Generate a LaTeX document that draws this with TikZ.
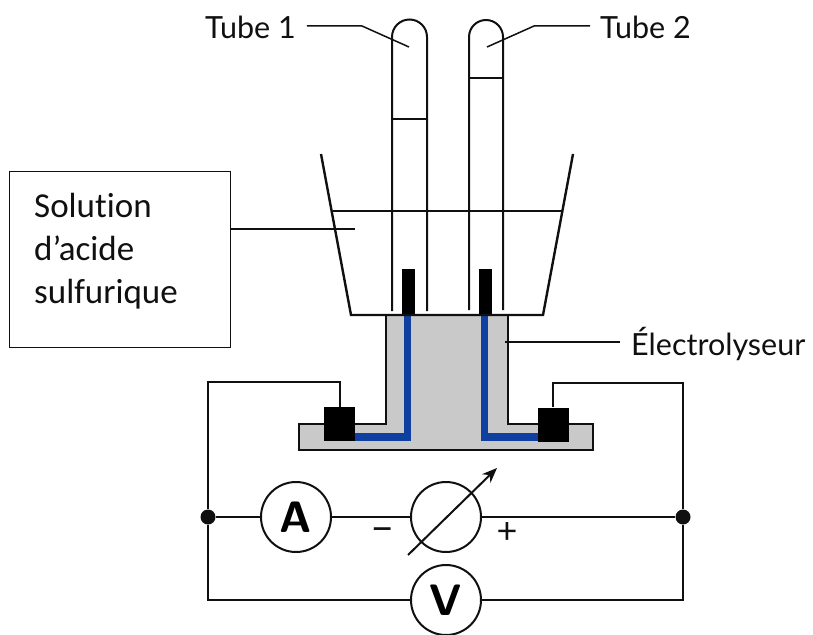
\documentclass[tikz,border=0pt]{standalone}
\usepackage{fontspec}
\setmainfont{Lato}[Ligatures=NoCommon]
\newfontfamily\boxfont{Carlito}[Ligatures=NoCommon]
\usetikzlibrary{arrows.meta}
\definecolor{greyfill}{HTML}{C9C9C9}
\definecolor{bluemetal}{HTML}{0F3FA0}
\definecolor{ink}{HTML}{101010}
\tikzset{
  wire/.style={draw=ink,line width=2pt},
  thin wire/.style={draw=ink,line width=1.5pt},
  meter/.style={circle,draw=ink,line width=2pt,minimum size=70pt,inner sep=0pt,font=\fontsize{44}{44}\selectfont\sffamily\bfseries,fill=white},
  dotj/.style={circle,fill=ink,minimum size=15pt,inner sep=0pt},
  label text/.style={font=\fontsize{30.5}{34}\selectfont,inner sep=0pt,text=ink},
  clamp/.style={fill=black,draw=none}
}
\begin{document}
\begin{tikzpicture}[x=1pt,y=-1pt]
\useasboundingbox (0,0) rectangle (813,634);
% electrolyser body
\fill[greyfill] (386,316) -- (508,316) -- (508,424) -- (593,424) -- (593,450) -- (299,450) -- (299,424) -- (386,424) -- cycle;
\draw[wire] (386,316) -- (386,424) -- (299,424) -- (299,450) -- (593,450) -- (593,424) -- (508,424) -- (508,316);
% blue electrodes
\fill[bluemetal] (404,316) rectangle (411,441);
\fill[bluemetal] (355,433) rectangle (411,441);
\fill[bluemetal] (481,316) rectangle (488,441);
\fill[bluemetal] (481,433) rectangle (538,441);
% black electrode tips
\fill[black] (402,269) rectangle (415,315);
\fill[black] (479,269) rectangle (492,315);
% clamps
\node[clamp,minimum width=31pt,minimum height=34pt,inner sep=0pt] (cl) at (339.5,424) {};
\node[clamp,minimum width=31pt,minimum height=34pt,inner sep=0pt] (cr) at (553,424.5) {};
% beaker
\draw[wire,line width=2.4pt,line join=miter] (321,154) -- (351,315) -- (543,315) -- (573,154);
\draw[thin wire] (333,211) -- (562,211);
% tubes
\draw[wire] (392,311) -- (392,37) arc[start angle=180,end angle=360,radius=17.5] -- (427,311);
\draw[wire] (469,310) -- (469,37) arc[start angle=180,end angle=360,radius=17] -- (503,310);
\draw[thin wire] (392,119) -- (427,119);
\draw[thin wire] (469,78) -- (503,78);
% labels
\node[label text,anchor=west] (t1) at (205,27) {Tube 1};
\node[label text,anchor=west] (t2) at (600,27) {Tube 2};
\node[label text,anchor=west] (el) at (631,344) {Électrolyseur};
\coordinate (t1end) at (409,47);
\coordinate (t2end) at (487,47);
\coordinate (elend) at (505,342);
\coordinate (boxend) at (355,229);
\draw[thin wire] (t1.east) ++(11,-1) -- (362,26) -- (t1end);
\draw[thin wire] (t2.west) ++(-10,-1) -- (534,26) -- (t2end);
\draw[thin wire] (el.west) ++(-11,-2) -- (elend);
% text box
\node[draw=ink,line width=1.2pt,anchor=north west,minimum width=221pt,minimum height=176pt,inner sep=0pt,fill=white] (box) at (9,171) {};
\node[anchor=west,inner sep=0pt,align=left,font=\boxfont\fontsize{35}{43}\selectfont,text=ink] (boxt) at (34,251) {Solution\\d’acide\\sulfurique};
\draw[thin wire] (box.east |- boxend) -- (boxend);
% circuit
\node[dotj] (jl) at (208,517) {};
\node[dotj] (jr) at (683,517) {};
\node[meter] (A) at (296,517) {A};
\node[meter] (G) at (446,517) {};
\node[meter] (V) at (446,600) {V};
\coordinate (arrowstart) at (408,555);
\coordinate (arrowend) at (497,468);
\draw[wire,-{Stealth[length=15pt,width=12pt]}] (arrowstart) -- (arrowend);
\draw[wire] (jl) -- (A);
\draw[wire] (A) -- (G);
\draw[wire] (G) -- (jr);
\draw[wire] (cl.north) |- (208,382) -- (jl);
\draw[wire] (cr.north) |- (683,383) -- (jr);
\draw[wire] (jl) |- (V);
\draw[wire] (jr) |- (V);
\node[inner sep=0pt,font=\fontsize{42}{42}\selectfont,text=ink] (minus) at (383,535) {–};
\node[inner sep=0pt,font=\fontsize{36}{36}\selectfont,text=ink] (plus) at (507,533) {+};
\end{tikzpicture}
\end{document}
